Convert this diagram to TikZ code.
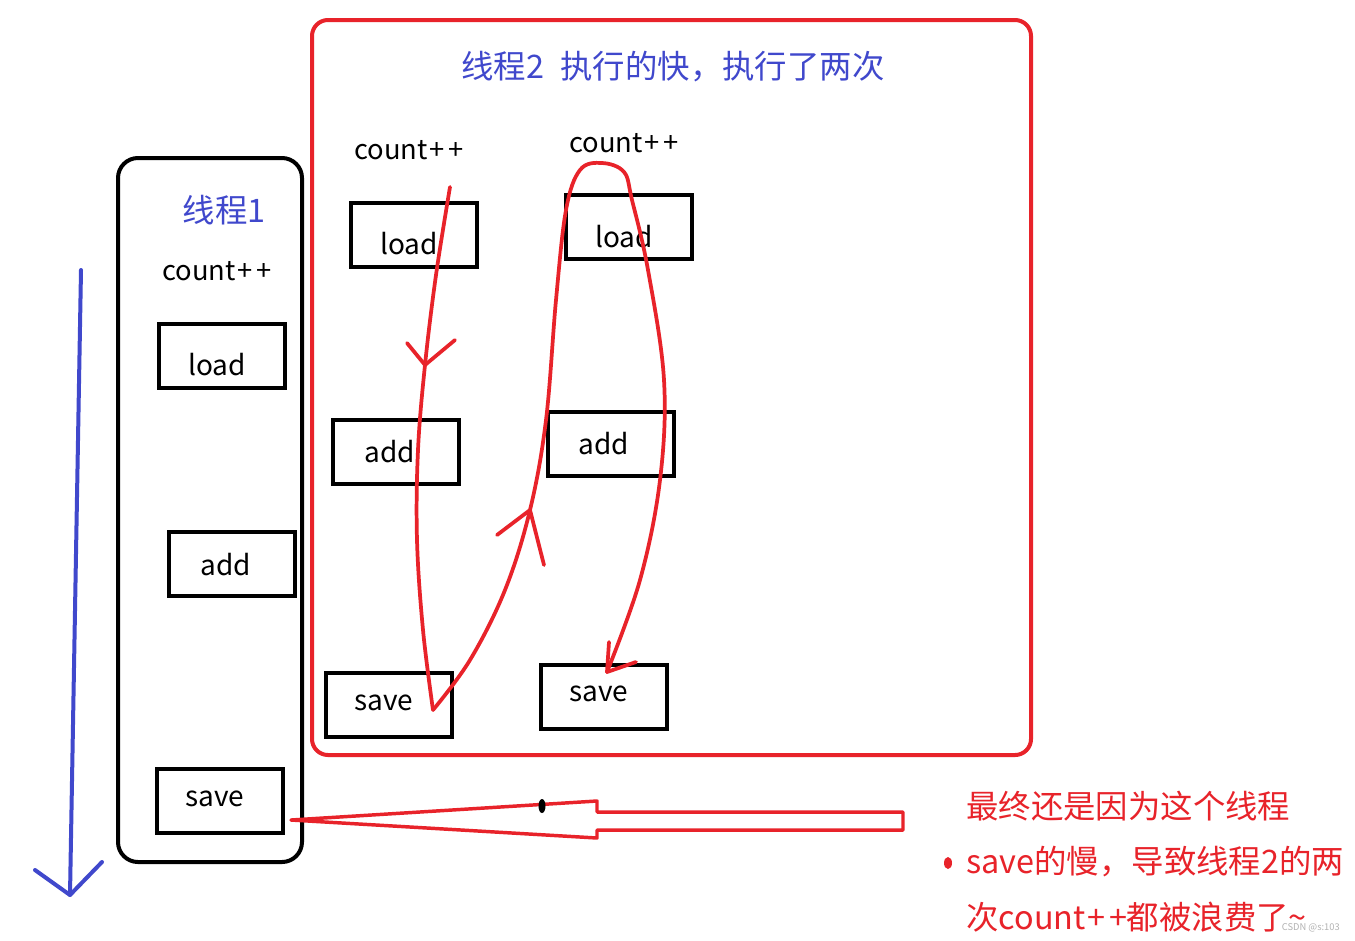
\documentclass[tikz,border=0pt]{standalone}
\usepackage{fontspec}
\setmainfont{Noto Sans CJK SC}
\definecolor{rd}{HTML}{E8232A}
\definecolor{bl}{HTML}{4048CC}
\newcommand{\cpp}{count\kern1.5pt+\kern2.5pt+}
\begin{document}
\begin{tikzpicture}[x=0.75pt,y=-0.75pt,
  opbox/.style={draw=black,line width=3pt,minimum width=94.5pt,minimum height=48pt,inner sep=0pt},
  optxt/.style={font=\fontsize{21}{24}\selectfont,inner sep=0pt},
  lbl/.style={font=\fontsize{20.5}{24}\selectfont,inner sep=0pt},
  ttl/.style={text=bl,font=\fontsize{24.3}{28}\selectfont,inner sep=0pt},
  rline/.style={draw=rd,line width=2.8pt,line cap=round,line join=round},
  note/.style={text=rd,font=\fontsize{24.3}{28}\selectfont,inner sep=0pt,anchor=west}]
\useasboundingbox (0,0) rectangle (1355,940);
\fill[white] (0,0) rectangle (1355,940);
% frames
\draw[line width=3pt,rounded corners=15pt] (118,158) rectangle (302,862);
\draw[rd,line width=3pt,rounded corners=12pt] (312,20) rectangle (1031,755);
% titles
\node[ttl] (t2) at (673,67) {线程2\,\,\,执行的快，执行了两次};
\node[ttl] (t1) at (224,210) {线程1};
\node[lbl] (c1) at (217,271) {\cpp};
\node[lbl] (c2) at (409,150) {\cpp};
\node[lbl] (c3) at (624,143) {\cpp};
% boxes
\node[opbox] (l1) at (222,356) {};
\node[opbox] (a1) at (232,564) {};
\node[opbox] (s1) at (220,801) {};
\node[opbox] (l2) at (414,235) {};
\node[opbox] (a2) at (396,452) {};
\node[opbox] (s2) at (389,705) {};
\node[opbox] (l3) at (629,227) {};
\node[opbox] (a3) at (611,444) {};
\node[opbox] (s3) at (604,697) {};
\node[optxt] (l1t) at (217,365) {load};
\node[optxt] (a1t) at (226,565) {add};
\node[optxt] (s1t) at (215,799) {save};
\node[optxt] (l2t) at (409,244) {load};
\node[optxt] (a2t) at (390,452) {add};
\node[optxt] (s2t) at (384,703) {save};
\node[optxt] (l3t) at (624,237) {load};
\node[optxt] (a3t) at (604,444) {add};
\node[optxt] (s3t) at (599,694) {save};
% blue time arrow
\coordinate (bt) at (81,270);
\coordinate (bb) at (70,895);
\draw[bl,line width=3pt,line cap=round] (bt) -- (bb);
\draw[bl,line width=3pt,line cap=round,line join=round] (35,870) -- (bb) -- (102,862);
% red curves
\draw[rline] plot[smooth,tension=0.6] coordinates {(450,187) (436,275) (425,365) (418,450) (417,540) (423,630) (433,710)};
\draw[rline] (407,343) -- (425,365) -- (455,340);
\draw[rline] plot[smooth,tension=0.6] coordinates {(433,710) (470,660) (505,590) (530,510) (546,420) (556,300) (566,210) (580,170) (602,163) (624,172) (632,200) (648,270) (664,380) (660,480) (640,580) (607,672)};
\draw[rline] (497,535) -- (530,510) -- (544,565);
\draw[rline] (607,672) -- (636,662);
\draw[rline] (607,672) -- (609,642);
% big hollow arrow
\coordinate (tip) at (291,820);
\draw[rline,line width=2.6pt] (tip) -- (597,801) -- (597,812) -- (903,812) -- (903,830) -- (597,830) -- (597,838) -- cycle;
\fill[black] (542,806) ellipse (3.5 and 7);
% note
\fill[rd] (948,863) ellipse (4 and 6);
\node[note] (n1) at (966,806) {最终还是因为这个线程};
\node[note] (n2) at (966,862) {save的慢，导致线程2的两};
\node[note] (n3) at (966,917) {次\cpp 都被浪费了\textasciitilde};
\node[text=gray!60,font=\fontsize{7}{8}\selectfont,inner sep=0pt,anchor=east] (wm) at (1340,928) {CSDN @s:103};
\end{tikzpicture}
\end{document}
